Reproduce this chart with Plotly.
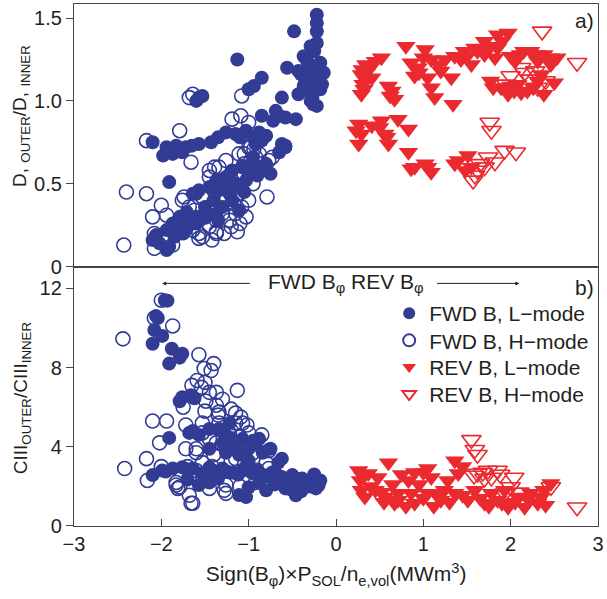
import plotly.graph_objects as go
from plotly.subplots import make_subplots

# ---------------- panel a): D outer / D inner ----------------
a_fwd_l_x = [-0.22, -0.22, -0.22, -0.48, -1.13, -0.29, -0.22, -0.37, -0.18, -0.31, -0.43, -0.56,
             -0.29, -0.14, -0.22, -0.37, -0.29, -0.18, -0.43, -0.29, -0.22, -0.85, -0.94, -1.0,
             -0.62, -1.57, -1.6, -1.53, -0.85, -0.69, -0.58, -0.46, -0.65, -1.26, -1.15, -1.03,
             -0.88, -0.8, -2.1, -1.94, -1.83, -1.72, -1.57, -1.43, -1.98, -1.87, -1.76, -0.62,
             -0.58, -0.65, -1.91, -1.37, -1.26, -1.19, -1.08, -0.96, -0.88, -0.8, -0.92, -0.85,
             -0.58, -1.64, -1.57, -1.45, -1.34, -1.22, -1.11, -1.03, -1.19, -1.3, -1.11, -1.37,
             -1.49, -1.71, -1.79, -1.87, -1.94, -2.06, -2.1, -2.02, -1.91, -1.94, -1.79, -1.68,
             -1.6, -2.06, -1.93, -1.79, -1.72, -1.57, -1.6, -0.88, -0.8,
             -0.25, -0.33, -0.20, -0.27, -0.35, -0.40, -0.24, -0.30, -0.16, -0.26, -1.20, -1.00,
             -0.95, -1.15, -1.05, -1.25, -1.40, -1.50, -1.60, -1.75, -1.85, -1.35, -0.90, -0.75,
             -1.90, -1.65, -1.35, -1.10, -0.95, -0.72]
a_fwd_l_y = [1.52, 1.47, 1.42, 1.42, 1.25, 1.33, 1.35, 1.27, 1.23, 1.21, 1.18, 1.20,
             1.15, 1.17, 1.11, 1.09, 1.05, 1.07, 1.04, 1.00, 0.97, 1.14, 1.09, 1.07,
             1.02, 1.02, 1.00, 1.03, 0.91, 0.94, 0.90, 0.89, 0.91, 0.81, 0.80, 0.82,
             0.81, 0.79, 0.75, 0.72, 0.73, 0.72, 0.74, 0.75, 0.67, 0.68, 0.69, 0.74,
             0.72, 0.69, 0.51, 0.52, 0.54, 0.58, 0.60, 0.62, 0.58, 0.62, 0.74, 0.76,
             0.73, 0.44, 0.46, 0.48, 0.46, 0.44, 0.48, 0.52, 0.40, 0.36, 0.34, 0.32,
             0.30, 0.33, 0.30, 0.26, 0.22, 0.19, 0.16, 0.14, 0.12, 0.10, 0.24, 0.26,
             0.30, 0.17, 0.11, 0.20, 0.22, 0.30, 0.44, 0.60, 0.58,
             1.30, 1.24, 1.14, 1.02, 1.12, 1.16, 1.19, 1.08, 1.10, 0.98, 0.57, 0.56,
             0.66, 0.50, 0.45, 0.48, 0.40, 0.36, 0.26, 0.20, 0.18, 0.28, 0.55, 0.56,
             0.70, 0.73, 0.78, 0.78, 0.78, 0.88]

a_fwd_h_x = [-2.43, -2.40, -2.17, -2.00, -2.10, -1.94, -2.08, -2.08, -2.17, -1.79, -1.66, -1.68,
             -1.64, -1.08, -1.19, -1.09, -1.74, -0.79, -1.13, -1.57, -1.37, -1.87, -1.45, -1.39,
             -1.05, -0.94, -0.73, -0.77, -1.00, -0.98, -1.57, -1.45, -1.37, -1.30, -1.22, -1.15,
             -1.08, -1.03, -1.45, -1.53, -1.41, -1.34, -1.45, -1.26, -1.11, -1.00, -0.92, -0.85,
             -1.03, -1.19, -1.11, -1.26, -1.37, -1.00, -1.57, -1.64, -1.53, -1.37, -1.68, -1.83,
             -1.76, -1.20, -1.28, -1.10, -1.40, -1.30, -1.20, -1.15, -0.95, -1.05, -0.88, -1.50,
             -1.62, -1.42, -1.33, -1.17]
a_fwd_h_y = [0.13, 0.45, 0.44, 0.37, 0.30, 0.31, 0.20, 0.11, 0.76, 0.82, 0.63, 1.02,
             1.04, 1.03, 0.89, 0.91, 0.42, 0.42, 0.21, 0.17, 0.21, 0.13, 0.58, 0.60,
             0.68, 0.71, 0.66, 0.64, 0.87, 0.72, 0.20, 0.24, 0.28, 0.32, 0.28, 0.32,
             0.36, 0.30, 0.36, 0.42, 0.48, 0.60, 0.54, 0.64, 0.68, 0.72, 0.66, 0.62,
             0.60, 0.52, 0.44, 0.40, 0.36, 0.40, 0.28, 0.22, 0.18, 0.20, 0.36, 0.26,
             0.40, 0.24, 0.20, 0.26, 0.46, 0.50, 0.46, 0.56, 0.50, 0.62, 0.68, 0.30,
             0.34, 0.16, 0.42, 0.38]

a_rev_l_x = [0.34, 0.45, 0.52, 0.29, 0.31, 0.29, 0.37, 0.41, 0.60, 0.64, 0.67, 0.80,
             1.02, 0.86, 0.94, 1.09, 1.17, 0.90, 1.05, 1.09, 1.13, 1.32, 1.34, 1.36,
             1.47, 1.59, 1.70, 1.85, 1.97, 1.55, 1.43, 1.70, 1.85, 2.00, 2.11, 2.23,
             2.38, 2.53, 2.31, 2.46, 1.82, 1.77, 1.89, 1.97, 2.08, 2.19, 2.31, 2.38,
             2.50, 2.04, 0.26, 0.29, 0.26, 0.41, 0.52, 0.56, 0.60, 0.71, 0.83, 0.83,
             0.86, 1.02, 1.09, 1.36, 1.51, 1.55,
             0.30, 0.33, 0.32, 0.35, 0.62, 0.95, 1.00, 1.20, 1.25, 1.50, 1.62, 1.75,
             1.90, 2.05, 2.15, 2.30, 2.45, 2.00, 2.12, 2.26, 2.35, 1.80, 0.23, 0.50,
             0.58, 0.90, 1.40, 1.48, 1.05]
a_rev_l_y = [1.22, 1.24, 1.26, 1.16, 1.10, 1.04, 1.20, 1.14, 1.09, 1.06, 1.01, 1.33,
             1.31, 1.23, 1.20, 1.25, 1.22, 1.15, 1.14, 1.08, 1.02, 1.14, 0.98, 1.27,
             1.30, 1.32, 1.36, 1.40, 1.41, 1.22, 1.25, 1.28, 1.32, 1.27, 1.28, 1.30,
             1.28, 1.26, 1.24, 1.22, 1.26, 1.12, 1.08, 1.04, 1.10, 1.06, 1.12, 1.04,
             1.11, 1.06, 0.86, 0.80, 0.74, 0.85, 0.88, 0.80, 0.74, 0.89, 0.83, 0.69,
             0.59, 0.62, 0.57, 0.62, 0.67, 0.60,
             1.19, 1.13, 1.07, 1.17, 1.03, 1.17, 1.26, 1.18, 1.25, 1.27, 1.30, 1.33,
             1.36, 1.24, 1.30, 1.28, 1.26, 1.09, 1.05, 1.08, 1.16, 1.08, 0.82, 0.84,
             0.78, 0.60, 0.64, 0.58, 0.60]

a_rev_h_x = [2.36, 2.76, 2.16, 2.23, 2.31, 1.76, 1.78, 1.93, 2.06, 1.82, 1.74, 1.65,
             1.59, 1.57, 2.12, 2.40, 1.95, 2.28, 1.70, 1.62, 2.00]
a_rev_h_y = [1.42, 1.23, 1.17, 1.13, 1.08, 0.87, 0.82, 0.70, 0.69, 0.63, 0.66, 0.62,
             0.55, 0.52, 1.20, 1.12, 1.10, 1.18, 0.60, 0.58, 1.15]

# ---------------- panel b): CIII outer / CIII inner ----------------
b_fwd_l_x = [-1.93, -1.96, -2.06, -2.04, -2.08, -1.99, -2.10, -1.88, -1.76, -1.91, -1.79, -1.79,
             -1.66, -1.62, -1.91, -2.10, -1.99, -1.87, -1.76, -1.64, -1.53, -1.41, -1.30, -1.19,
             -1.07, -0.96, -0.84, -0.73, -0.62, -0.50, -0.39, -0.28, -0.18, -0.23, -0.35, -0.46,
             -0.58, -0.62, -0.66, -1.57, -1.11, -1.03, -1.00, -1.45, -0.88, -1.34, -1.26, -1.15,
             -1.07, -1.00, -0.92, -0.84, -1.26, -1.45, -1.68, -1.22, -1.45, -1.57, -1.11, -1.76,
             -1.64, -0.25, -0.30, -0.42, -0.55, -0.70, -0.80,
             -1.95, -1.70, -1.45, -1.25, -1.12, -0.90, -0.68, -0.45, -0.32, -0.20, -0.40, -0.52,
             -0.95, -1.05, -1.15, -1.20, -1.30, -0.75, -0.88, -1.00, -0.80, -1.35, -1.70]
b_fwd_l_y = [11.38, 11.40, 10.6, 10.5, 9.9, 9.6, 9.2, 8.95, 8.7, 8.2, 8.5, 6.3,
             6.6, 6.45, 4.45, 2.57, 2.8, 2.9, 2.97, 2.9, 2.67, 2.8, 2.9, 2.7,
             2.8, 2.67, 2.57, 2.7, 2.47, 2.57, 2.4, 2.3, 2.3, 1.9, 1.98, 1.55,
             1.9, 3.4, 3.2, 2.07, 1.56, 1.46, 1.96, 2.2, 2.2, 4.9, 4.6, 4.2,
             4.4, 3.9, 4.1, 3.7, 3.7, 3.9, 4.7, 5.2, 4.9, 4.6, 3.6, 6.5,
             4.8, 2.6, 2.0, 2.2, 2.4, 2.1, 2.5,
             2.75, 2.85, 2.95, 2.75, 2.6, 2.85, 2.6, 2.35, 2.15, 2.05, 1.75, 1.85,
             4.3, 3.6, 3.9, 4.45, 4.2, 3.9, 4.4, 3.3, 1.8, 2.4, 2.35]

b_fwd_h_x = [-2.44, -1.87, -2.00, -2.08, -1.57, -1.40, -1.51, -1.43, -1.59, -1.54, -1.45, -1.37,
             -1.49, -1.37, -1.34, -1.13, -2.10, -1.94, -1.72, -2.02, -1.72, -1.60, -2.17, -2.42,
             -2.16, -1.83, -1.81, -1.68, -1.66, -1.28, -1.26, -1.15, -1.09, -1.15, -1.07, -1.02,
             -1.34, -1.53, -1.53, -1.60, -1.45, -1.37, -1.30, -1.22, -1.53, -0.77, -1.83, -1.68,
             -1.26, -0.92, -0.77, -0.80, -1.60, -1.79, -1.64, -1.20, -1.00, -1.40, -1.10,
             -1.05, -1.15, -1.25, -0.95, -1.42, -1.35, -1.20, -1.50, -1.65, -1.50, -1.30, -1.75,
             -1.00, -0.85, -1.10, -1.45, -1.70, -2.00]
b_fwd_h_y = [9.45, 10.1, 11.4, 10.5, 8.65, 8.2, 7.95, 7.85, 7.35, 7.0, 6.75, 6.75,
             6.3, 6.1, 5.75, 6.85, 5.3, 5.3, 5.1, 4.2, 3.9, 3.9, 3.4, 2.9,
             2.3, 2.07, 1.9, 1.55, 1.15, 1.8, 1.65, 5.7, 5.5, 5.2, 5.2, 5.1,
             5.2, 5.2, 4.7, 3.7, 4.4, 4.2, 4.1, 4.7, 3.2, 3.8, 2.2, 2.45,
             2.07, 2.2, 2.9, 3.2, 2.8, 1.97, 1.15, 3.3, 3.0, 3.6, 4.5,
             4.0, 3.4, 3.9, 3.7, 3.0, 5.6, 5.9, 5.8, 7.1, 7.25, 6.4, 6.0,
             4.7, 4.6, 2.0, 1.9, 3.0, 3.0]

b_rev_l_x = [0.26, 0.28, 0.29, 0.33, 0.60, 0.48, 0.45, 0.56, 0.71, 0.83, 0.90, 0.86,
             1.05, 1.09, 1.05, 1.20, 1.36, 1.40, 1.36, 1.51, 1.59, 1.70, 1.85, 1.97,
             2.08, 2.23, 2.38, 2.46, 2.31, 2.16, 1.78, 0.67, 0.90, 1.24, 1.93, 0.37,
             0.71,
             0.30, 0.40, 0.52, 0.65, 0.75, 0.95, 1.00, 1.15, 1.28, 1.30, 1.45, 1.65,
             1.75, 1.90, 2.05, 2.20, 2.35, 2.40, 0.55, 0.80, 1.12, 1.45, 1.00]
b_rev_l_y = [2.8, 2.3, 1.8, 1.46, 3.2, 2.45, 1.8, 1.46, 1.65, 2.3, 2.7, 1.65,
             2.9, 2.45, 1.65, 1.3, 3.3, 2.65, 1.65, 1.3, 1.8, 1.15, 1.3, 0.95,
             1.46, 1.65, 1.8, 2.15, 1.15, 0.95, 1.65, 1.15, 1.15, 1.8, 1.8, 2.65,
             1.3,
             2.55, 2.0, 1.7, 2.1, 2.6, 2.1, 1.4, 1.6, 2.3, 1.2, 1.55, 1.4,
             1.0, 1.15, 1.2, 1.35, 1.45, 1.05, 1.2, 1.0, 1.0, 3.0, 2.7]

b_rev_h_x = [1.55, 1.59, 1.62, 1.74, 1.78, 1.85, 2.04, 1.62, 1.70, 2.76, 1.93, 2.00, 2.46,
             1.88, 2.10, 2.30, 1.68, 1.58]
b_rev_h_y = [4.35, 3.85, 3.6, 2.8, 2.45, 2.8, 2.45, 2.65, 2.4, 0.95, 1.65, 1.97, 1.97,
             2.6, 1.7, 1.6, 2.7, 2.55]

series_names = ["FWD B, L\u2212mode", "FWD B, H\u2212mode", "REV B, L\u2212mode", "REV B, H\u2212mode"]

BLUE = "#323C94"
RED = "#EB2A30"
INK = "#231F20"
FONT = "Liberation Sans, Arial, sans-serif"

styles = [
    dict(symbol="circle", size=14, color=BLUE, line=dict(width=0)),
    dict(symbol="circle-open", size=14, color=BLUE, line=dict(width=1.6, color=BLUE)),
    dict(symbol="triangle-down", size=17, color=RED, line=dict(width=0)),
    dict(symbol="triangle-down-open", size=17, color=RED, line=dict(width=1.6, color=RED)),
]
legend_ids = ["legend", "legend2", "legend3", "legend4"]
legend_rows_y = [0.407, 0.355, 0.304, 0.252]

fig = make_subplots(rows=2, cols=1, shared_xaxes=True, vertical_spacing=0,
                    row_heights=[0.503, 0.497])

top = [(a_fwd_l_x, a_fwd_l_y), (a_fwd_h_x, a_fwd_h_y), (a_rev_l_x, a_rev_l_y), (a_rev_h_x, a_rev_h_y)]
bot = [(b_fwd_l_x, b_fwd_l_y), (b_fwd_h_x, b_fwd_h_y), (b_rev_l_x, b_rev_l_y), (b_rev_h_x, b_rev_h_y)]

for (xs, ys), st, nm in zip(top, styles, series_names):
    fig.add_trace(go.Scatter(x=xs, y=ys, mode="markers", marker=st, name=nm,
                             showlegend=False), row=1, col=1)
for (xs, ys), st, nm, lg in zip(bot, styles, series_names, legend_ids):
    fig.add_trace(go.Scatter(x=xs, y=ys, mode="markers", marker=st, name=nm,
                             showlegend=True, legend=lg), row=2, col=1)

axis_common = dict(showline=True, linecolor="#444", linewidth=1.3, mirror=True,
                   showgrid=False, zeroline=False, tickcolor="#444",
                   tickfont=dict(family=FONT, size=20, color=INK))

fig.update_xaxes(range=[-3, 3], **axis_common)
fig.update_xaxes(showticklabels=False, ticks="", row=1, col=1)
fig.update_xaxes(ticks="inside", ticklen=7, tickvals=[-3, -2, -1, 0, 1, 2, 3],
                 title=dict(text="Sign(B<sub>\u03c6</sub>)\u00d7P<sub>SOL</sub>/n<sub>e,vol</sub>(MWm<sup>3</sup>)",
                            font=dict(family=FONT, size=21, color=INK), standoff=12),
                 row=2, col=1)

fig.update_yaxes(**axis_common)
fig.update_yaxes(range=[0, 1.585], tickvals=[0, 0.5, 1.0, 1.5], ticktext=["0", "0.5", "1.0", "1.5"],
                 ticks="outside", ticklen=7, row=1, col=1)
fig.update_yaxes(range=[0, 13.1], tickvals=[0, 4, 8, 12],
                 ticks="outside", ticklen=7, row=2, col=1)

title_font = dict(family=FONT, size=19, color=INK)
fig.add_annotation(text="D, <sub>OUTER</sub>/D, <sub>INNER</sub>", xref="paper", yref="paper",
                   x=-0.1025, y=0.786, textangle=-90, showarrow=False, font=title_font,
                   xanchor="center", yanchor="middle")
fig.add_annotation(text="CIII<sub>OUTER</sub>/CIII<sub>INNER</sub>", xref="paper", yref="paper",
                   x=-0.099, y=0.245, textangle=-90, showarrow=False, font=title_font,
                   xanchor="center", yanchor="middle")

ann_font = dict(family=FONT, size=21, color=INK)
fig.add_annotation(text="a)", xref="paper", yref="paper", x=0.995, y=0.969,
                   xanchor="right", yanchor="middle", showarrow=False, font=ann_font,
                   borderpad=0)
fig.add_annotation(text="b)", xref="paper", yref="paper", x=0.995, y=0.457,
                   xanchor="right", yanchor="middle", showarrow=False, font=ann_font,
                   borderpad=0)
fig.add_annotation(text="FWD B<sub>\u03c6</sub> REV B<sub>\u03c6</sub>", xref="x2", yref="y2",
                   x=0.12, y=12.25, showarrow=False, font=ann_font, yanchor="middle")
# direction arrows
fig.add_annotation(x=-1.99, y=12.25, ax=-0.97, ay=12.25, xref="x2", yref="y2",
                   axref="x2", ayref="y2", text="", showarrow=True, arrowhead=2,
                   arrowsize=0.8, arrowwidth=1, arrowcolor=INK)
fig.add_annotation(x=2.10, y=12.25, ax=1.14, ay=12.25, xref="x2", yref="y2",
                   axref="x2", ayref="y2", text="", showarrow=True, arrowhead=2,
                   arrowsize=0.8, arrowwidth=1, arrowcolor=INK)

layout_legends = {}
for lg, ly in zip(legend_ids, legend_rows_y):
    layout_legends[lg] = dict(x=0.6015, y=ly, xanchor="left", yanchor="middle",
                              bgcolor="rgba(0,0,0,0)",
                              font=dict(family=FONT, size=21, color=INK),
                              itemsizing="constant")

fig.update_layout(
    width=607, height=599,
    margin=dict(l=74, r=6, t=3, b=73),
    paper_bgcolor="white", plot_bgcolor="white",
    font=dict(family=FONT, color=INK),
    showlegend=True,
    **layout_legends,
)

fig.write_html("out.html")
